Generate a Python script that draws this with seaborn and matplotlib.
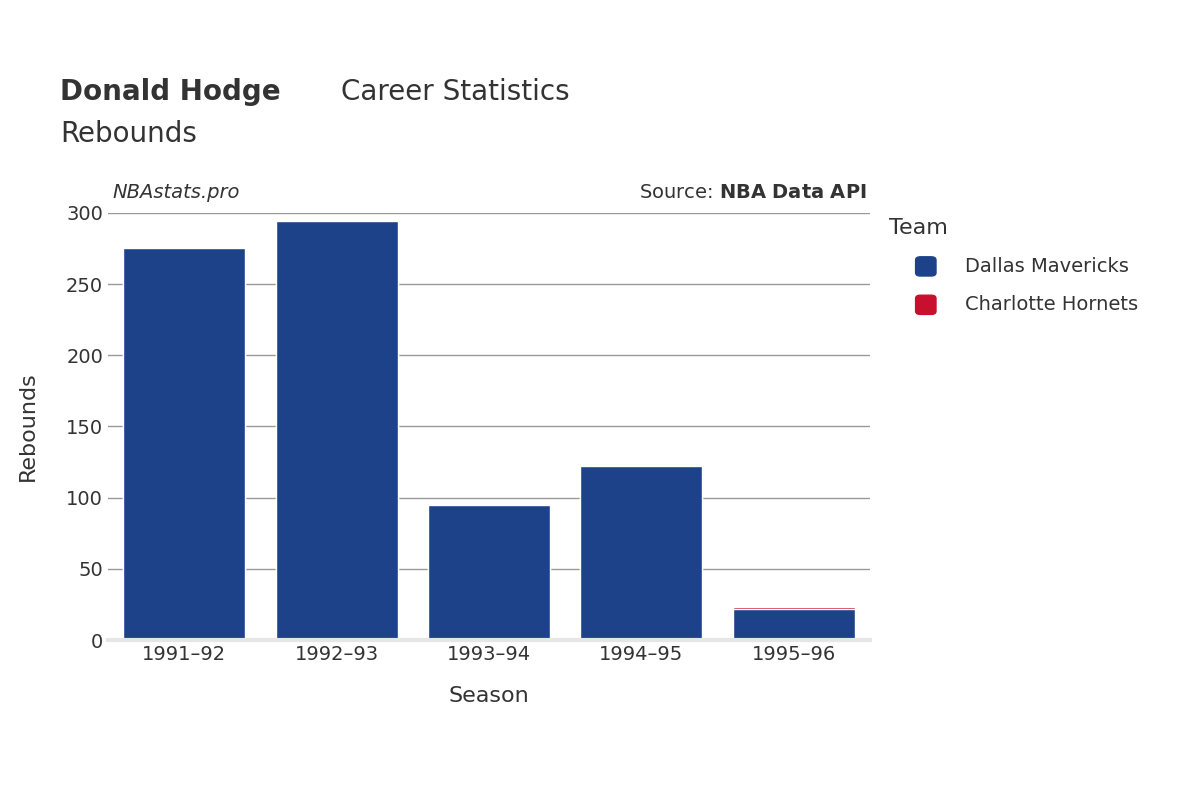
import matplotlib
matplotlib.use("Agg")
import matplotlib.pyplot as plt
import seaborn as sns
import pandas as pd
from matplotlib.patches import FancyBboxPatch

seasons = ["1991–92", "1992–93", "1993–94", "1994–95", "1995–96"]
dallas = [275, 294, 95, 122, 22]
charlotte = [0, 0, 0, 0, 1]
c_dal = "#1D428A"
c_cha = "#C8102E"

df = pd.DataFrame({"Season": seasons, "Dallas": dallas, "Charlotte": charlotte})
df["Total"] = df["Dallas"] + df["Charlotte"]

fig = plt.figure(figsize=(12, 8), dpi=100)
ax = fig.add_axes([0.09, 0.2, 0.635, 0.534])
sns.set_style("white")
sns.barplot(data=df, x="Season", y="Total", color=c_cha, width=0.8, ax=ax, saturation=1)
sns.barplot(data=df, x="Season", y="Dallas", color=c_dal, width=0.8, ax=ax, saturation=1)
ax.set_ylim(0, 300)
ax.set_xlim(-0.5, 4.5)
ax.set_yticks(range(0, 301, 50))
ax.yaxis.grid(True, color="#999999", linewidth=1)
ax.set_axisbelow(True)
for s in ["top", "right", "left"]:
    ax.spines[s].set_visible(False)
ax.spines["bottom"].set_color("#e6e6e6")
ax.spines["bottom"].set_linewidth(3)
ax.tick_params(length=0, labelsize=14, colors="#333333")
ax.set_xlabel("Season", fontsize=16, color="#333333", labelpad=16)
ax.set_ylabel("Rebounds", fontsize=16, color="#333333", labelpad=20)

fig.text(0.05, 0.875, "Donald Hodge", fontsize=20, fontweight="bold", color="#333333", ha="left", va="baseline")
fig.text(0.284, 0.875, "Career Statistics", fontsize=20, color="#333333", ha="left", va="baseline")
fig.text(0.05, 0.823, "Rebounds", fontsize=20, color="#333333", ha="left", va="baseline")
fig.text(0.094, 0.752, "NBAstats.pro", fontsize=14, style="italic", color="#333333")
fig.text(0.722, 0.752, "Source: $\\bf{NBA\\ Data\\ API}$", fontsize=14, color="#333333", ha="right")

fig.text(0.741, 0.707, "Team", fontsize=16, color="#333333")
for i, (name, c) in enumerate([("Dallas Mavericks", c_dal), ("Charlotte Hornets", c_cha)]):
    y = 0.667 - i * 0.048
    fig.patches.append(FancyBboxPatch((0.763, y - 0.012), 0.017, 0.024, boxstyle="round,pad=0,rounding_size=0.004",
                                      transform=fig.transFigure, color=c))
    fig.text(0.804, y, name, fontsize=14, color="#333333", va="center")

fig.savefig("out.png", dpi=100)
